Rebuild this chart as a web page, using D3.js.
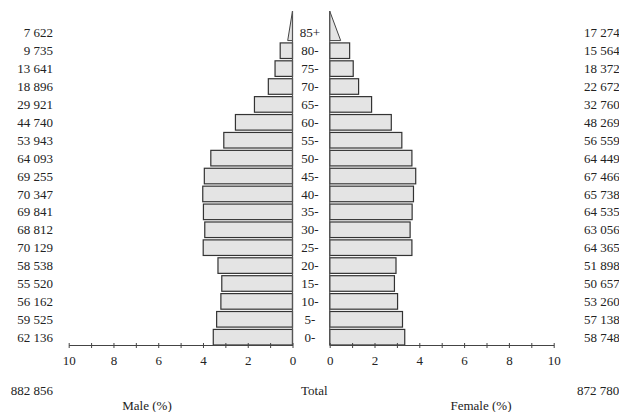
<!DOCTYPE html>
<html>
<head>
<meta charset="utf-8">
<script src="https://cdn.jsdelivr.net/npm/d3@7"></script>
<style>
  html, body { margin: 0; padding: 0; background: #fff; }
  svg { display: block; }
  text { font-family: "Liberation Serif", "Times New Roman", serif; font-size: 13px; fill: #222; }
</style>
</head>
<body>
<svg id="chart" width="619" height="412"></svg>
<script>
// Age groups, top to bottom
const ageGroups = ["85+","80-","75-","70-","65-","60-","55-","50-","45-","40-","35-","30-","25-","20-","15-","10-","5-","0-"];
// Counts (as printed)
const maleCounts   = ["7 622","9 735","13 641","18 896","29 921","44 740","53 943","64 093","69 255","70 347","69 841","68 812","70 129","58 538","55 520","56 162","59 525","62 136"];
const femaleCounts = ["17 274","15 564","18 372","22 672","32 760","48 269","56 559","64 449","67 466","65 738","64 535","63 056","64 365","51 898","50 657","53 260","57 138","58 748"];
// Percent of total population (bar lengths)
const malePct   = [0.43,0.55,0.78,1.08,1.70,2.55,3.07,3.65,3.94,4.01,3.98,3.92,3.99,3.33,3.16,3.20,3.39,3.54];
const femalePct = [0.98,0.89,1.05,1.29,1.87,2.75,3.22,3.67,3.84,3.74,3.68,3.59,3.67,2.96,2.89,3.03,3.25,3.35];
const maleTotal = "882 856";
const femaleTotal = "872 780";
const tickValues = [0,1,2,3,4,5,6,7,8,9,10];

const svg = d3.select("#chart");

const xM = d3.scaleLinear().domain([0, 10]).range([292.5, 68.7]);
const xF = d3.scaleLinear().domain([0, 10]).range([329.7, 553.7]);
const y = d3.scaleBand().domain(ageGroups).range([23.84, 346.16]).paddingInner(0.13).paddingOuter(0.065);
const axisY = 345;

const barFill = "#e4e4e4", barStroke = "#333";

const rows = ageGroups.map((a, i) => ({ age: a, m: malePct[i], f: femalePct[i], mc: maleCounts[i], fc: femaleCounts[i], open: a.endsWith("+") }));

// Regular bars
svg.append("g").selectAll("rect.m").data(rows.filter(d => !d.open)).join("rect")
  .attr("x", d => xM(d.m)).attr("y", d => y(d.age))
  .attr("width", d => xM(0) - xM(d.m)).attr("height", y.bandwidth())
  .attr("fill", barFill).attr("stroke", barStroke).attr("stroke-width", 1.2);
svg.append("g").selectAll("rect.f").data(rows.filter(d => !d.open)).join("rect")
  .attr("x", xF(0)).attr("y", d => y(d.age))
  .attr("width", d => xF(d.f) - xF(0)).attr("height", y.bandwidth())
  .attr("fill", barFill).attr("stroke", barStroke).attr("stroke-width", 1.2);

// Open-ended group drawn as triangle
const apexY = 11;
rows.filter(d => d.open).forEach(d => {
  const base = y(d.age) + y.bandwidth();
  svg.append("path")
    .attr("d", `M${xM(0)},${base}L${xM(d.m / 2)},${base}L${xM(0)},${apexY}Z`)
    .attr("fill", barFill).attr("stroke", "#444").attr("stroke-width", 1);
  svg.append("path")
    .attr("d", `M${xF(0)},${base}L${xF(d.f / 2)},${base}L${xF(0)},${apexY}Z`)
    .attr("fill", barFill).attr("stroke", "#444").attr("stroke-width", 1);
});

// Zero lines
svg.append("line").attr("x1", xM(0)).attr("x2", xM(0)).attr("y1", apexY).attr("y2", axisY).attr("stroke", "#555").attr("stroke-width", 1.2);
svg.append("line").attr("x1", xF(0)).attr("x2", xF(0)).attr("y1", apexY).attr("y2", axisY).attr("stroke", "#555").attr("stroke-width", 1.2);

// Axes
function styleAxis(g) {
  g.select(".domain").attr("stroke", "#444").attr("stroke-width", 1.2);
  g.selectAll(".tick line").attr("stroke", "#444").attr("y1", -2).attr("y2", 3);
  g.selectAll(".tick text").attr("font-family", "Liberation Serif").attr("font-size", 13).attr("fill", "#222");
}
const fmt = v => (v % 2 === 0 ? String(v) : "");
svg.append("g").attr("transform", `translate(0,${axisY})`)
  .call(d3.axisBottom(xM).tickValues(tickValues).tickFormat(fmt).tickSizeInner(3).tickSizeOuter(0).tickPadding(8))
  .call(styleAxis);
svg.append("g").attr("transform", `translate(0,${axisY})`)
  .call(d3.axisBottom(xF).tickValues(tickValues).tickFormat(fmt).tickSizeInner(3).tickSizeOuter(0).tickPadding(8))
  .call(styleAxis);

// Row labels
const cy = d => y(d.age) + y.bandwidth() / 2;
svg.append("g").selectAll("text").data(rows).join("text")
  .attr("x", 310).attr("y", cy).attr("dy", "0.35em").attr("text-anchor", "middle").text(d => d.age);
svg.append("g").selectAll("text").data(rows).join("text")
  .attr("x", 53).attr("y", cy).attr("dy", "0.35em").attr("text-anchor", "end").text(d => d.mc);
svg.append("g").selectAll("text").data(rows).join("text")
  .attr("x", 584).attr("y", cy).attr("dy", "0.35em").attr("text-anchor", "start").text(d => d.fc);

// Totals and titles
svg.append("text").attr("x", 53).attr("y", 390).attr("dy", "0.35em").attr("text-anchor", "end").text(maleTotal);
svg.append("text").attr("x", 301).attr("y", 390).attr("dy", "0.35em").attr("text-anchor", "start").text("Total");
svg.append("text").attr("x", 577).attr("y", 390).attr("dy", "0.35em").attr("text-anchor", "start").text(femaleTotal);
svg.append("text").attr("x", 147).attr("y", 405).attr("dy", "0.35em").attr("text-anchor", "middle").text("Male (%)");
svg.append("text").attr("x", 481).attr("y", 405).attr("dy", "0.35em").attr("text-anchor", "middle").text("Female (%)");
</script>
</body>
</html>
